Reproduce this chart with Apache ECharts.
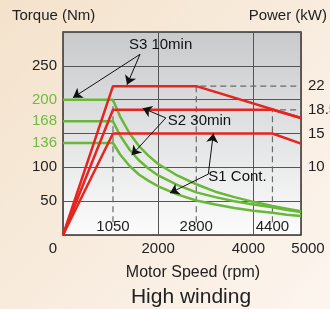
<!DOCTYPE html>
<html>
<head>
<meta charset="utf-8">
<script src="https://cdn.jsdelivr.net/npm/echarts@6/dist/echarts.min.js"></script>
<style>
  html, body { margin: 0; padding: 0; }
  #main { width: 330px; height: 309px; }
</style>
</head>
<body>
<div id="main"></div>
<script>
// speed axis (rpm) for torque curves
const speed = [0, 1050, 1200, 1400, 1600, 1800, 2000, 2400, 2800, 3200, 3600, 4000, 4400, 4700, 5000]
const torqueS3 = [200, 200, 175, 150, 131, 117, 105, 88, 75, 64, 56, 49, 43, 39, 35]
const torqueS2 = [168, 168, 147, 126, 110, 98, 88, 74, 63, 56, 50, 45, 41, 37, 34]
const torqueS1 = [136, 136, 119, 102, 89, 80, 72, 60, 51, 45, 40, 36, 33, 30, 28]

// power curves (kW): corner speeds and values
const powerSpeedS3 = [0, 1050, 2800, 5000]
const powerS3 = [0, 22, 22, 17.3]
const powerSpeedS2 = [0, 1050, 4400, 5000]
const powerS2 = [0, 18.5, 18.5, 17.3]
const powerSpeedS1 = [0, 1050, 4400, 5000]
const powerS1 = [0, 15, 15, 13.5]

// tick labels
const torqueTicks = [50, 100, 136, 168, 200, 250]
const greenTicks = [136, 168, 200]
const powerTicks = [10, 15, 18.5, 22]
const speedTicks = [0, 2000, 4000, 5000]
const cornerSpeeds = [1050, 2800, 4400]

// dashed guide lines [rpm, kW]
const guide1050 = [[1050, 1.9], [1050, 20]]
const guide2800 = [[2800, 1.9], [2800, 22], [5000, 22]]
const guide4400 = [[4400, 1.9], [4400, 18.5], [5000, 18.5]]

// annotations [rpm, Nm]
const notes = [
  { text: 'S3 10min', at: [2050, 281], from: [1618, 267], to: [[210, 203], [1345, 222]] },
  { text: 'S2 30min', at: [2868, 169], from: [2160, 173], to: [[1674, 187.5], [1443, 118]] },
  { text: 'S1 Cont.', at: [3666, 86], from: [3053, 90], to: [[3158, 150], [2248, 62]] }
]

const RED = '#e52521'
const GREEN = '#69b83a'
const FONT = 'Liberation Sans'

const zip = (xs, ys) => xs.map((x, i) => [x, ys[i]])

const chart = echarts.init(document.getElementById('main'))

function greenSeries(name, values) {
  return {
    name, type: 'line', data: zip(speed, values), yAxisIndex: 0,
    symbol: 'none', smooth: false, z: 3,
    lineStyle: { color: GREEN, width: 2.5 }
  }
}

function redSeries(name, xs, values) {
  return {
    name, type: 'line', data: zip(xs, values), yAxisIndex: 1,
    symbol: 'none', z: 4,
    lineStyle: { color: RED, width: 2.5 }
  }
}

function guideSeries(data) {
  return {
    type: 'line', data, yAxisIndex: 1, symbol: 'none', z: 2,
    lineStyle: { color: '#6a6a6a', width: 1.2, type: [6, 4] }
  }
}

const arrowLines = []
const textPoints = []
notes.forEach(n => {
  n.to.forEach(t => arrowLines.push([{ coord: n.from }, { coord: t }]))
  textPoints.push({ coord: n.at, value: n.text })
})

chart.setOption({
  backgroundColor: new echarts.graphic.LinearGradient(0, 0, 1, 1, [
    { offset: 0, color: '#f4e2cb' },
    { offset: 1, color: '#fcf5ef' }
  ]),
  animation: false,
  textStyle: { fontFamily: FONT },
  grid: {
    left: 63, right: 29, top: 32, bottom: 74,
    outerBoundsMode: 'none',
    containLabel: false,
    show: true,
    borderColor: '#3b3331', borderWidth: 1.5,
    backgroundColor: new echarts.graphic.LinearGradient(0, 0, 0, 1, [
      { offset: 0, color: '#c9cacc' },
      { offset: 1, color: '#fcfcfc' }
    ])
  },
  xAxis: [
    {
      type: 'value', min: 0, max: 5000, interval: 2000,
      axisLine: { show: false }, axisTick: { show: false },
      splitLine: { show: true, lineStyle: { color: '#555', width: 1 } },
      axisLabel: {
        customValues: speedTicks, margin: 6, fontSize: 15, color: '#222',
        formatter: v => v === 0 ? '{l|0}' : v === 4000 ? '{m|4000}' : v === 5000 ? '{r|5000}' : String(v),
        rich: {
          l: { fontSize: 15, color: '#222', padding: [0, 20, 0, 0] },
          m: { fontSize: 15, color: '#222', padding: [0, 10, 0, 0] },
          r: { fontSize: 15, color: '#222', padding: [0, 0, 0, 14] }
        }
      }
    },
    {
      type: 'value', min: 0, max: 5000, position: 'bottom',
      axisLine: { show: false }, axisTick: { show: false }, splitLine: { show: false },
      axisLabel: {
        inside: true, customValues: cornerSpeeds, margin: 1, fontSize: 15, color: '#222',
        formatter: v => String(v)
      }
    }
  ],
  yAxis: [
    {
      type: 'value', min: 0, max: 300, interval: 50,
      axisLine: { show: false }, axisTick: { show: false },
      splitLine: { show: true, lineStyle: { color: '#555', width: 1 } },
      axisLabel: {
        customValues: torqueTicks, margin: 6, fontSize: 15, color: '#222',
        formatter: v => greenTicks.includes(v) ? '{g|' + v + '}' : String(v),
        rich: { g: { fontSize: 15, color: '#6cbd3f' } }
      }
    },
    {
      type: 'value', min: 0, max: 30, position: 'right',
      axisLine: { show: false }, axisTick: { show: false }, splitLine: { show: false },
      axisLabel: { customValues: powerTicks, margin: 7, fontSize: 15, color: '#222', formatter: v => String(v) }
    }
  ],
  graphic: [
    { type: 'text', left: 12, top: 8, style: { text: 'Torque (Nm)', fontSize: 15, fontFamily: FONT, fill: '#222' } },
    { type: 'text', right: 3, top: 8, style: { text: 'Power (kW)', fontSize: 15, fontFamily: FONT, fill: '#222' } },
    { type: 'text', x: 193, y: 273, style: { text: 'Motor Speed (rpm)', fontSize: 16, fontFamily: FONT, fill: '#222', align: 'center', verticalAlign: 'middle' } },
    { type: 'text', x: 191, y: 297, style: { text: 'High winding', fontSize: 21, fontFamily: FONT, fill: '#222', align: 'center', verticalAlign: 'middle' } }
  ],
  series: [
    guideSeries(guide1050),
    guideSeries(guide2800),
    guideSeries(guide4400),
    greenSeries('S3 torque', torqueS3),
    greenSeries('S2 torque', torqueS2),
    greenSeries('S1 torque', torqueS1),
    redSeries('S3 power', powerSpeedS3, powerS3),
    redSeries('S2 power', powerSpeedS2, powerS2),
    redSeries('S1 power', powerSpeedS1, powerS1),
    {
      type: 'line', data: [], yAxisIndex: 0, symbol: 'none', z: 6,
      markLine: {
        silent: true, animation: false,
        symbol: ['none', 'arrow'], symbolSize: 9,
        lineStyle: { color: '#111', width: 1, type: 'solid' },
        label: { show: false },
        data: arrowLines
      },
      markPoint: {
        silent: true, animation: false,
        symbol: 'circle', symbolSize: 0,
        label: {
          show: true, position: 'inside', fontSize: 15, color: '#111', fontFamily: FONT,
          formatter: p => p.value
        },
        data: textPoints
      }
    }
  ]
})
</script>
</body>
</html>
